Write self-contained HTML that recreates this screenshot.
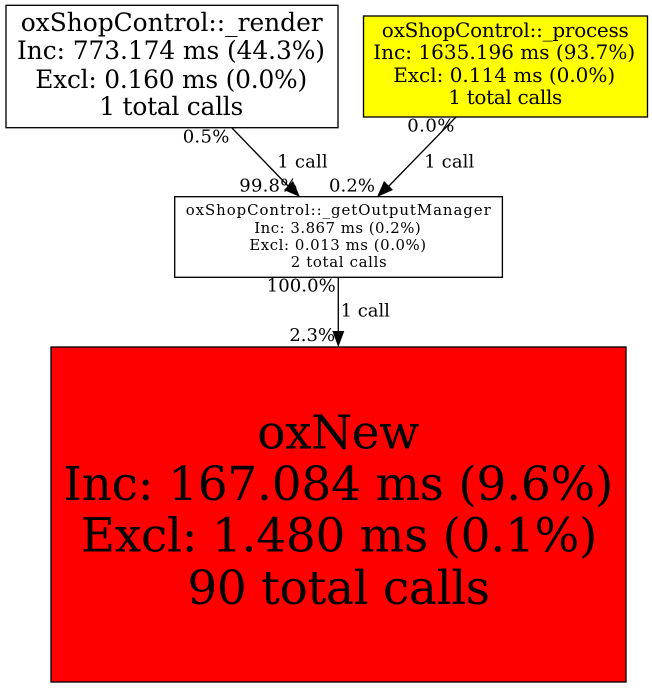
<!DOCTYPE html>
<html><head><meta charset="utf-8">
<style>
html,body{margin:0;padding:0;background:#fff}
svg{display:block}
text{font-family:"DejaVu Serif",serif;fill:#000;text-anchor:middle}
.e{font-size:18px}
.n1{font-size:24.9px}
.n2{font-size:20px}
.n3{font-size:14.9px}
.n4{font-size:47px}
</style></head><body>
<svg width="652" height="688" viewBox="0 0 652 688" xmlns="http://www.w3.org/2000/svg">
<rect x="0" y="0" width="652" height="688" fill="#fff"/>
<rect x="6" y="5.3" width="332" height="122.4" fill="#fff" stroke="#000" stroke-width="1.33"/>
<text class="n1" x="171.7" y="31" textLength="302" lengthAdjust="spacing">oxShopControl::_render</text>
<text class="n1" x="171" y="59" textLength="308" lengthAdjust="spacing">Inc: 773.174 ms (44.3%)</text>
<text class="n1" x="171.2" y="88" textLength="272" lengthAdjust="spacing">Excl: 0.160 ms (0.0%)</text>
<text class="n1" x="171.3" y="115" textLength="144" lengthAdjust="spacing">1 total calls</text>
<rect x="363.5" y="16" width="284" height="101" fill="#ff0" stroke="#000" stroke-width="1.33"/>
<text class="n2" x="505.3" y="37" textLength="247" lengthAdjust="spacing">oxShopControl::_process</text>
<text class="n2" x="504.2" y="59" textLength="262" lengthAdjust="spacing">Inc: 1635.196 ms (93.7%)</text>
<text class="n2" x="504.2" y="82" textLength="222" lengthAdjust="spacing">Excl: 0.114 ms (0.0%)</text>
<text class="n2" x="505.3" y="104" textLength="114" lengthAdjust="spacing">1 total calls</text>
<rect x="174.7" y="196.7" width="327.7" height="80.6" fill="#fff" stroke="#000" stroke-width="1.33"/>
<text class="n3" x="338.2" y="215" textLength="305" lengthAdjust="spacing">oxShopControl::_getOutputManager</text>
<text class="n3" x="337.5" y="233" textLength="166.4" lengthAdjust="spacing">Inc: 3.867 ms (0.2%)</text>
<text class="n3" x="337.7" y="250" textLength="176.7" lengthAdjust="spacing">Excl: 0.013 ms (0.0%)</text>
<text class="n3" x="338.7" y="267" textLength="96" lengthAdjust="spacing">2 total calls</text>
<rect x="51" y="347" width="575" height="335" fill="#f00" stroke="#000" stroke-width="1.33"/>
<text class="n4" x="338.3" y="448.3" textLength="162" lengthAdjust="spacing">oxNew</text>
<text class="n4" x="338.3" y="500" textLength="550" lengthAdjust="spacing">Inc: 167.084 ms (9.6%)</text>
<text class="n4" x="339" y="551.7" textLength="516.6" lengthAdjust="spacing">Excl: 1.480 ms (0.1%)</text>
<text class="n4" x="338.7" y="604" textLength="302.7" lengthAdjust="spacing">90 total calls</text>
<path d="M232 128 L290 188" fill="none" stroke="#000" stroke-width="1.33"/>
<polygon points="300,197 284,190 293,181" fill="#000"/>
<path d="M456 117 L387 188" fill="none" stroke="#000" stroke-width="1.33"/>
<polygon points="377,197 384,181 393,190" fill="#000"/>
<path d="M338.3 277 L338.3 331" fill="none" stroke="#000" stroke-width="1.33"/>
<polygon points="338.3,347 332.3,331 344.3,331" fill="#000"/>
<text class="e" x="206" y="142.7" textLength="46.6" lengthAdjust="spacing">0.5%</text>
<text class="e" x="302.5" y="167.7" textLength="50.4" lengthAdjust="spacing">1 call</text>
<text class="e" x="268.3" y="191.7" textLength="58" lengthAdjust="spacing">99.8%</text>
<text class="e" x="430.8" y="131.7" textLength="47" lengthAdjust="spacing">0.0%</text>
<text class="e" x="449.3" y="167.7" textLength="50" lengthAdjust="spacing">1 call</text>
<text class="e" x="352" y="191.7" textLength="46" lengthAdjust="spacing">0.2%</text>
<text class="e" x="301.2" y="291.7" textLength="69" lengthAdjust="spacing">100.0%</text>
<text class="e" x="365.3" y="316.7" textLength="49.3" lengthAdjust="spacing">1 call</text>
<text class="e" x="312.2" y="341" textLength="45.7" lengthAdjust="spacing">2.3%</text>
</svg>
</body></html>
